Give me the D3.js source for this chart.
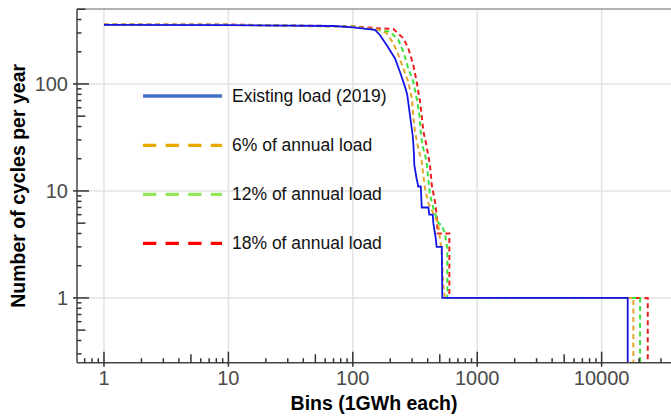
<!DOCTYPE html>
<meta charset="utf-8">
<style>
body { margin: 0; background: #fff; }
svg { display: block; font-family: "Liberation Sans", Arial, sans-serif; }
.grid line { stroke: #e3e3e3; stroke-width: 1.5px; }
.tick-label { font-size: 20px; fill: #4a4a4a; }
.axis-title { font-size: 19.5px; font-weight: bold; fill: #000; }
.legend text { font-size: 17.5px; fill: #111; }
</style>
<body>
<script src="https://cdn.jsdelivr.net/npm/d3@7"></script>
<script>

// Duration curves: bins (GWh) vs cycles per year
var existingBins   = [1, 10, 70, 100, 151, 165, 187, 218, 239, 263, 274, 288, 303, 307, 310, 312, 326, 336, 352, 358, 405, 412, 439, 444, 464, 472, 519, 524, 16200];
var existingCycles = [356, 355, 348, 338, 320, 287, 231, 174, 130, 94, 79, 51, 33, 27, 22, 17.5, 13, 11, 11, 7, 7, 6, 6, 5, 3.6, 3, 3, 1, 1];

var load6Bins   = [1, 10, 100, 166, 187, 212, 232, 255, 279, 298, 306, 316, 336, 358, 369, 380, 405, 458, 487, 502, 518, 534, 551, 17990];
var load6Cycles = [357, 356, 342, 320, 298, 240, 187, 140, 105, 73.5, 51, 36, 25, 18.8, 14.1, 10.6, 7.7, 5.75, 4.8, 3.6, 2.7, 1.3, 1, 1];

var load12Bins   = [1, 10, 100, 199, 232, 255, 279, 306, 326, 343, 353, 365, 380, 393, 404, 417, 444, 487, 518, 551, 568, 575, 575, 20370];
var load12Cycles = [358, 357, 344, 308, 258, 200, 140, 105, 73.5, 51, 33.4, 26, 22, 18, 13, 9.2, 6.9, 5, 4.8, 4, 3.1, 3, 1, 1];

var load18Bins   = [1, 10, 100, 156, 212, 255, 279, 306, 326, 347, 358, 369, 390, 417, 431, 458, 472, 480, 597, 597, 23470];
var load18Cycles = [360, 359, 346, 332, 326, 267, 216, 151, 105, 68, 51, 36, 27, 17.5, 11.4, 7.9, 6, 4, 4, 1, 1];

var seriesNames  = ["Existing load (2019)", "6% of annual load", "12% of annual load", "18% of annual load"];
var lineColors   = ["#1414e6", "#e5a630", "#3ee03e", "#ee1c1c"];
var legendColors = ["#4472c4", "#e8a800", "#92e65a", "#ff0000"];

var xTickValues = [1, 10, 100, 1000, 10000];
var yTickValues = [1, 10, 100];

var width = 671, height = 416;
var pLeft = 77, pRight = 671, pTop = 9, pBottom = 362.7;

var x = d3.scaleLog().domain([0.607, 36100]).range([pLeft, pRight]);
var y = d3.scaleLog().domain([0.248, 502]).range([pBottom, pTop]);

var svg = d3.select("body").append("svg")
    .attr("width", width)
    .attr("height", height);

// grid
var grid = svg.append("g").attr("class", "grid");
grid.selectAll(".gx").data(xTickValues).enter().append("line")
    .attr("x1", function(d) { return x(d); }).attr("x2", function(d) { return x(d); })
    .attr("y1", pTop).attr("y2", pBottom);
grid.selectAll(".gy").data(yTickValues).enter().append("line")
    .attr("x1", pLeft).attr("x2", pRight)
    .attr("y1", function(d) { return y(d); }).attr("y2", function(d) { return y(d); });

// curves
var series = [
  { bins: existingBins, cycles: existingCycles },
  { bins: load6Bins, cycles: load6Cycles },
  { bins: load12Bins, cycles: load12Cycles },
  { bins: load18Bins, cycles: load18Cycles }
];

svg.append("clipPath").attr("id", "plot-clip")
  .append("rect").attr("x", pLeft).attr("y", pTop).attr("width", pRight - pLeft).attr("height", pBottom - pTop);

var line = d3.line()
    .x(function(d) { return x(d[0]); })
    .y(function(d) { return y(d[1]); });

var curves = svg.append("g").attr("clip-path", "url(#plot-clip)");
// draw dashed ones first, existing load on top
[3, 2, 1, 0].forEach(function(i) {
  var s = series[i];
  var pts = s.bins.map(function(b, j) { return [b, s.cycles[j]]; });
  // last bin drops to zero, i.e. off the bottom of the log axis
  pts.push([s.bins[s.bins.length - 1], y.domain()[0]]);
  curves.append("path")
      .datum(pts)
      .attr("d", line)
      .attr("fill", "none")
      .attr("stroke", lineColors[i])
      .attr("stroke-width", i == 0 ? 1.8 : 2)
      .attr("stroke-dasharray", i == 0 ? null : "5,3.5");
});

// frame
svg.append("line").attr("x1", pLeft).attr("x2", pRight).attr("y1", pTop).attr("y2", pTop)
    .attr("stroke", "#9a9a9a").attr("stroke-width", 1.5);
svg.append("line").attr("x1", pLeft).attr("x2", pLeft).attr("y1", pTop).attr("y2", pBottom)
    .attr("stroke", "#444").attr("stroke-width", 1.5);
svg.append("line").attr("x1", pLeft).attr("x2", pRight).attr("y1", pBottom).attr("y2", pBottom)
    .attr("stroke", "#444").attr("stroke-width", 1.5);

// log ticks
function logTicks(domain) {
  var out = [];
  for (var e = -1; e <= 5; e++) {
    for (var m = 1; m <= 9; m++) {
      var v = m * Math.pow(10, e);
      if (v >= domain[0] && v <= domain[1]) out.push({ v: v, m: m });
    }
  }
  return out;
}

svg.append("g").selectAll("line").data(logTicks(x.domain())).enter().append("line")
    .attr("x1", function(d) { return x(d.v); }).attr("x2", function(d) { return x(d.v); })
    .attr("y1", function(d) { return d.m == 1 ? pBottom + 4 : pBottom; })
    .attr("y2", function(d) { return pBottom - (d.m == 1 ? 11 : d.m == 5 ? 8.5 : 4.5); })
    .attr("stroke", "#333").attr("stroke-width", 1.5);

svg.append("g").selectAll("line").data(logTicks(y.domain())).enter().append("line")
    .attr("y1", function(d) { return y(d.v); }).attr("y2", function(d) { return y(d.v); })
    .attr("x1", function(d) { return d.m == 1 ? pLeft - 4 : pLeft; })
    .attr("x2", function(d) { return pLeft + (d.m == 1 ? 12 : d.m == 5 ? 8.5 : 4.5); })
    .attr("stroke", "#333").attr("stroke-width", 1.5);

// tick labels
svg.append("g").selectAll("text").data(xTickValues).enter().append("text")
    .attr("class", "tick-label")
    .attr("x", function(d) { return x(d); })
    .attr("y", 385)
    .attr("text-anchor", "middle")
    .text(function(d) { return d; });

svg.append("g").selectAll("text").data(yTickValues).enter().append("text")
    .attr("class", "tick-label")
    .attr("x", 68)
    .attr("y", function(d) { return y(d); })
    .attr("dy", "0.36em")
    .attr("text-anchor", "end")
    .text(function(d) { return d; });

// axis titles
svg.append("text").attr("class", "axis-title")
    .attr("x", (pLeft + pRight) / 2).attr("y", 410)
    .attr("text-anchor", "middle")
    .text("Bins (1GWh each)");

svg.append("text").attr("class", "axis-title")
    .attr("transform", "translate(25," + (pTop + pBottom) / 2 + ")rotate(-90)")
    .attr("text-anchor", "middle")
    .text("Number of cycles per year");

// legend
var legendRows = [96, 145.3, 194.3, 243.3];
var legend = svg.append("g").attr("class", "legend");
seriesNames.forEach(function(name, i) {
  legend.append("line")
      .attr("x1", 143).attr("x2", 222)
      .attr("y1", legendRows[i]).attr("y2", legendRows[i])
      .attr("stroke", legendColors[i])
      .attr("stroke-width", 3.3)
      .attr("stroke-dasharray", i == 0 ? null : "13.3,9.3");
  legend.append("text")
      .attr("x", 232).attr("y", legendRows[i])
      .attr("dy", "0.35em")
      .text(name);
});

</script>
